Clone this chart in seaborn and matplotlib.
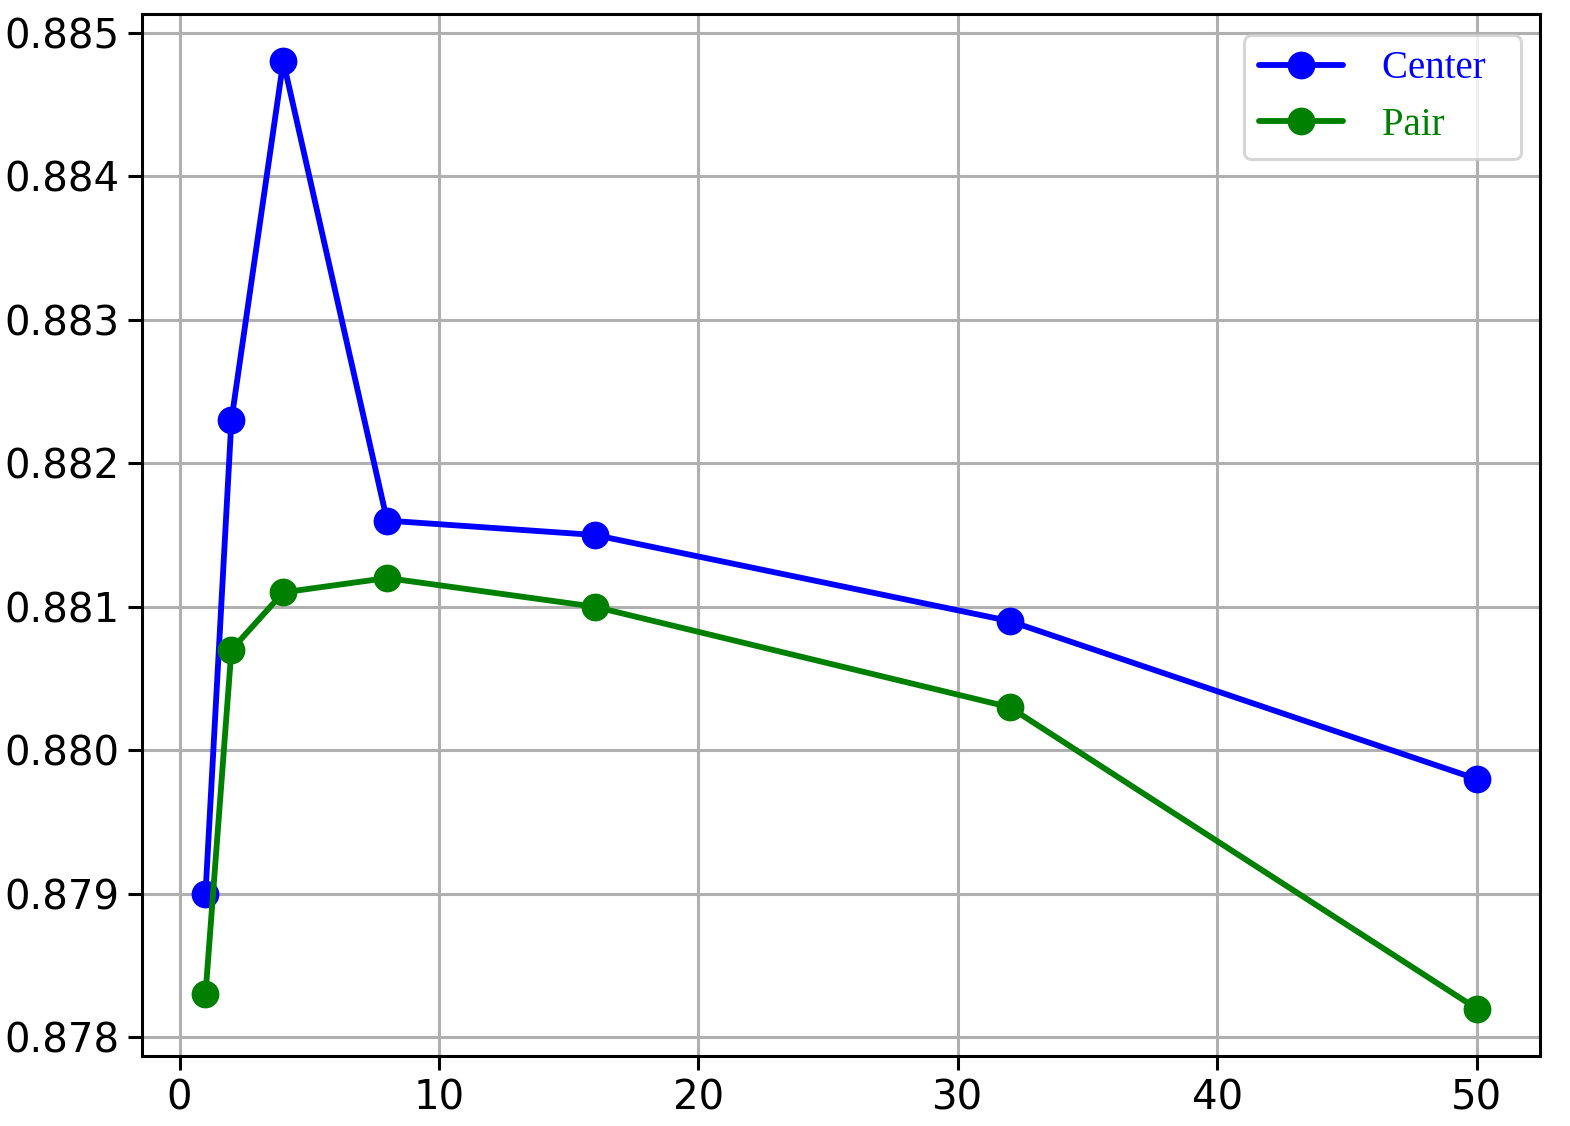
import pandas as pd
import matplotlib.pyplot as plt
import seaborn as sns

x_vals = [1, 2, 4, 8, 16, 32, 50]
center = [0.8790, 0.8823, 0.8848, 0.8816, 0.8815, 0.8809, 0.8798]
pair = [0.8783, 0.8807, 0.8811, 0.8812, 0.8810, 0.8803, 0.8782]
series = ['Center', 'Pair']
colors = {'Center': 'blue', 'Pair': 'green'}

df = pd.DataFrame({
    'x': x_vals * 2,
    'value': center + pair,
    'series': ['Center'] * len(x_vals) + ['Pair'] * len(x_vals),
})

sns.set_style('whitegrid')
plt.rcParams['font.family'] = ['DejaVu Sans']

fig = plt.figure(figsize=(15.7, 11.26), dpi=100)
ax = fig.add_axes([0.0904, 0.0622, 0.8906, 0.9254])

sns.lineplot(data=df, x='x', y='value', hue='series', palette=colors,
             marker='o', markersize=20, markeredgewidth=0, linewidth=4.2,
             ax=ax)

ax.grid(True, color='#b0b0b0', linewidth=2.2)
for s in ax.spines.values():
    s.set_color('black')
    s.set_linewidth(2.2)
ax.tick_params(axis='both', which='major', labelsize=29, length=10, width=2.2,
               color='black', labelcolor='black', left=True, bottom=True, pad=6)
ax.set_xticks([0, 10, 20, 30, 40, 50])
ax.set_yticks([0.878, 0.879, 0.880, 0.881, 0.882, 0.883, 0.884, 0.885])
ax.yaxis.set_major_formatter(plt.FuncFormatter(lambda v, p: f'{v:.3f}'))
ax.set_xlabel('')
ax.set_ylabel('')

handles, labels = ax.get_legend_handles_labels()
# trailing en space gives the wider right margin seen in the reference
leg = ax.legend(handles, [l + '\u2002' for l in labels], loc='upper right',
                bbox_to_anchor=(0.986, 0.98), borderaxespad=0,
                prop={'family': 'Liberation Serif', 'size': 28},
                frameon=True, fancybox=True, framealpha=0.8, edgecolor='#cccccc',
                handlelength=2.15, handletextpad=1.0, labelspacing=0.5,
                borderpad=0.4)
leg.get_frame().set_linewidth(2.2)
for t, name in zip(leg.get_texts(), labels):
    t.set_color(colors[name])

fig.savefig('out.png', dpi=100)
